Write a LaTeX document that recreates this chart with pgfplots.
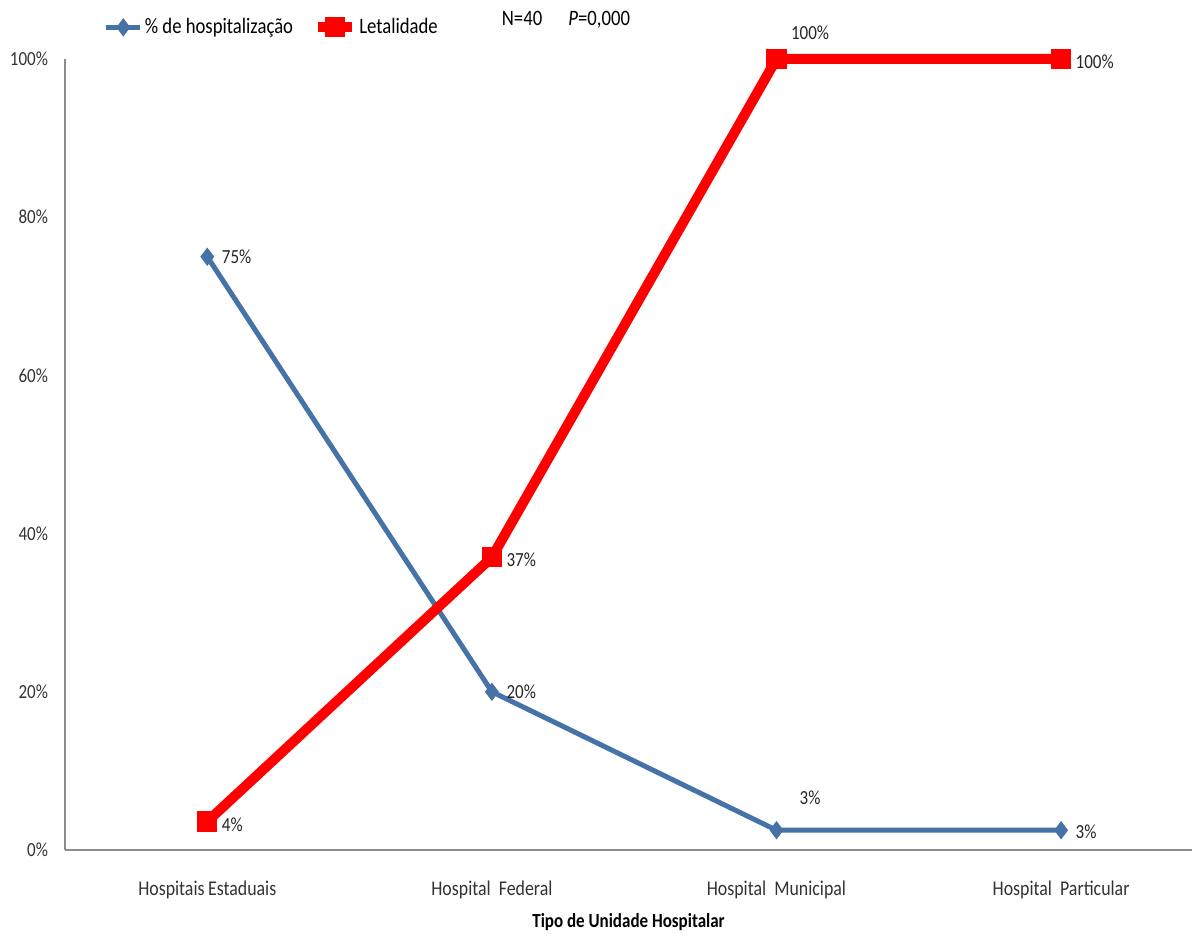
\documentclass[border=0pt]{standalone}
\usepackage{pgfplots}
\pgfplotsset{compat=1.18}
\usepackage{fontspec}
\setmainfont{Carlito}[FakeStretch=0.85]
\definecolor{hblue}{RGB}{69,114,167}
\definecolor{lred}{RGB}{255,0,0}
\begin{document}
\begin{tikzpicture}
\useasboundingbox (-32.5pt,-43.5pt) rectangle (563.5pt,425pt);
\begin{axis}[
  at={(0,0)}, anchor=south west,
  scale only axis, width=563.5pt, height=395.5pt,
  xmin=-0.5, xmax=3.46, ymin=0, ymax=100,
  axis x line=bottom, axis y line=left,
  axis line style={-, draw=black!45, line width=0.8pt},
  xtick={0,1,2,3},
  xticklabels={Hospitais\,Estaduais, Hospital\ \ Federal, Hospital\ \ Municipal, Hospital\ \ Particular},
  ytick={0,20,40,60,80,100},
  yticklabels={0\%,20\%,40\%,60\%,80\%,100\%},
  major tick length=0pt,
  tick label style={font=\fontsize{10}{12}\selectfont, black!80},
  x tick label style={yshift=-12pt, font=\fontsize{10.5}{12}\selectfont},
  y tick label style={xshift=-5pt},
  /pgf/number format/assume math mode=true,
  xlabel={\textbf{Tipo de Unidade Hospitalar}},
  xlabel style={font=\fontsize{10}{12}\selectfont, at={(axis description cs:0.5,0)}, anchor=base, yshift=-38.5pt},
  clip=false,
  legend style={at={(axis description cs:0.034,1.04)}, anchor=west, draw=none, fill=none,
    font=\fontsize{11}{13}\selectfont, legend columns=2, inner sep=0pt,
    /tikz/every even column/.append style={column sep=9pt},
    nodes={inner xsep=1pt}},
  legend cell align=left,
]
\addplot[hblue, line width=2.5pt, mark=diamond*, mark size=4.2pt, mark options={solid, line width=0.5pt}]
  coordinates {(0,75) (1,20) (2,2.5) (3,2.5)};
\addlegendentry{\% de hospitalização}
\addplot[lred, line width=5pt, mark=square*, mark size=4.8pt, mark options={solid, line width=0.5pt}]
  coordinates {(0,3.6) (1,37) (2,100) (3,100)};
\addlegendentry{Letalidade}
\begin{scope}[every node/.style={font=\fontsize{10}{12}\selectfont, black!85, inner sep=0pt}]
\node[anchor=west] at (axis cs:0.05,75) {75\%};
\node[anchor=west] at (axis cs:1.05,20) {20\%};
\node[anchor=west] at (axis cs:2.08,6.6) {3\%};
\node[anchor=west] at (axis cs:3.05,2.3) {3\%};
\node[anchor=west] at (axis cs:0.05,3.2) {4\%};
\node[anchor=west] at (axis cs:1.05,36.7) {37\%};
\node[anchor=west] at (axis cs:2.05,103.3) {100\%};
\node[anchor=west] at (axis cs:3.05,99.7) {100\%};
\end{scope}
\node[font=\fontsize{11}{13}\selectfont, inner sep=0pt] at (axis description cs:0.4445,1.049) {N=40\quad\ \textit{P}=0,000};
\end{axis}
\end{tikzpicture}
\end{document}
